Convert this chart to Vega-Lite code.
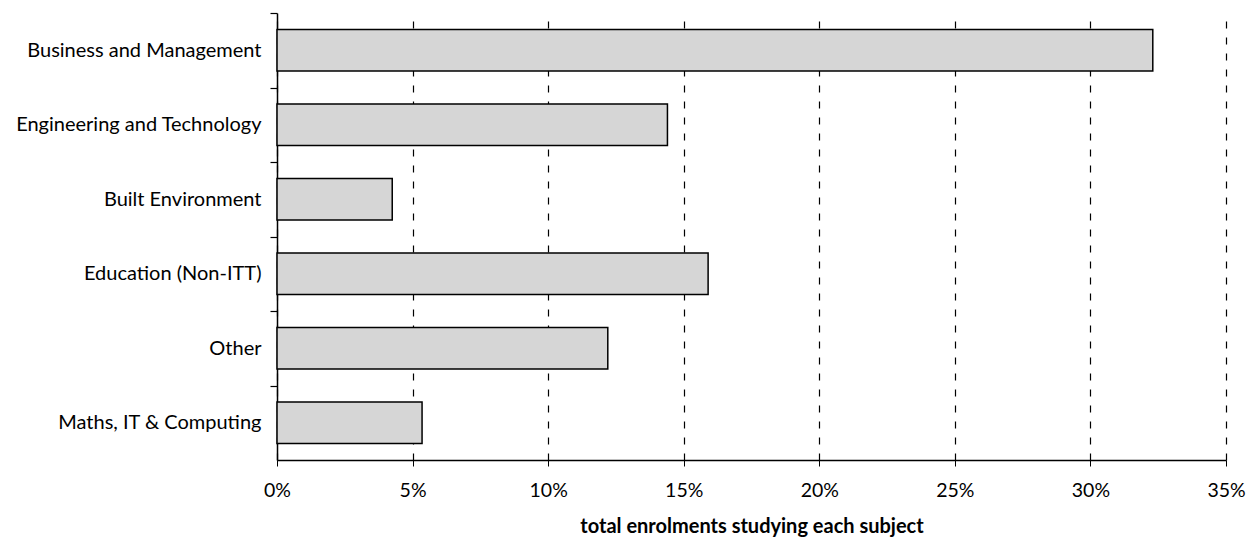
{
  "$schema": "https://vega.github.io/schema/vega-lite/v6.json",
  "autosize": "none",
  "width": 949,
  "height": 447,
  "padding": {"left": 277, "top": 13, "right": 27, "bottom": 80},
  "background": "white",
  "config": {
    "view": {"stroke": null},
    "font": "Lato",
    "axis": {"labelFont": "Lato", "titleFont": "Lato", "labelColor": "black", "titleColor": "black", "domainColor": "black", "tickColor": "black"}
  },
  "data": {
    "values": [
      {"subject": "Business and Management", "share": 0.323},
      {"subject": "Engineering and Technology", "share": 0.144},
      {"subject": "Built Environment", "share": 0.0425},
      {"subject": "Education (Non-ITT)", "share": 0.159},
      {"subject": "Other", "share": 0.122},
      {"subject": "Maths, IT & Computing", "share": 0.0535}
    ]
  },
  "mark": {"type": "bar", "fill": "#d6d6d6", "stroke": "black", "strokeWidth": 1.5},
  "encoding": {
    "y": {
      "field": "subject",
      "type": "nominal",
      "sort": null,
      "scale": {"paddingInner": 0.44, "paddingOuter": 0.22},
      "axis": {
        "title": null,
        "labelFontSize": 20,
        "labelLimit": 300,
        "labelPadding": 9,
        "tickSize": 7,
        "tickOffset": -37.25,
        "labelOffset": 37.25,
        "domainWidth": 1.5,
        "tickWidth": 1.2
      }
    },
    "x": {
      "field": "share",
      "type": "quantitative",
      "scale": {"domain": [0, 0.35], "nice": false},
      "axis": {
        "format": "~%",
        "values": [0, 0.05, 0.1, 0.15, 0.2, 0.25, 0.3, 0.35],
        "title": "total enrolments studying each subject",
        "titleFontSize": 20,
        "titleFontWeight": "bold",
        "titlePadding": 17,
        "labelFontSize": 19.5,
        "labelFlush": false,
        "labelPadding": 15,
        "tickSize": 6,
        "domainWidth": 1.5,
        "grid": true,
        "gridColor": "black",
        "gridDash": [7, 9],
        "gridWidth": 1.2,
        "gridOpacity": 1
      }
    }
  }
}
